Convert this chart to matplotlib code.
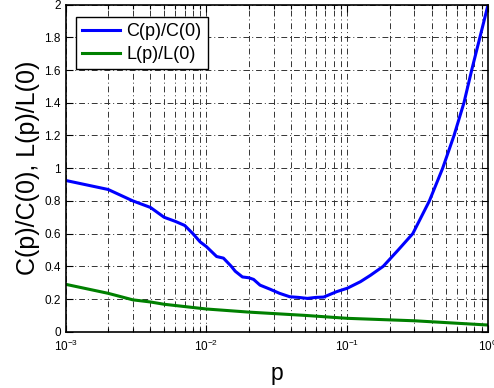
import matplotlib
matplotlib.use("Agg")
import matplotlib.pyplot as plt
from matplotlib.ticker import LogLocator

plt.rcParams['font.family'] = ['Liberation Sans', 'DejaVu Sans']
plt.rcParams['mathtext.fontset'] = 'custom'
plt.rcParams['mathtext.rm'] = 'Liberation Sans'
plt.rcParams['mathtext.it'] = 'Liberation Sans:italic'

# data
p_C = [1e-3, 2e-3, 3e-3, 4e-3, 5e-3, 6e-3, 7e-3, 8e-3, 9e-3, 1e-2, 0.0118, 0.0132,
       0.015, 0.016, 0.018, 0.020, 0.0216, 0.024, 0.0283, 0.033, 0.039, 0.045,
       0.052, 0.060, 0.068, 0.084, 0.10, 0.124, 0.146, 0.180, 0.230, 0.292,
       0.383, 0.476, 0.573, 0.674, 0.765, 0.875, 1.0]
C_ratio = [0.925, 0.87, 0.80, 0.76, 0.70, 0.675, 0.65, 0.60, 0.55, 0.52, 0.46, 0.45,
           0.40, 0.37, 0.335, 0.33, 0.32, 0.285, 0.26, 0.235, 0.214, 0.21,
           0.204, 0.21, 0.212, 0.245, 0.266, 0.306, 0.345, 0.40, 0.50, 0.60,
           0.80, 1.0, 1.2, 1.4, 1.6, 1.8, 2.0]
p_L = [1e-3, 2e-3, 3e-3, 4e-3, 5e-3, 1e-2, 0.02, 0.05, 0.1, 0.3, 1.0]
L_ratio = [0.29, 0.235, 0.195, 0.182, 0.168, 0.139, 0.12, 0.10, 0.082, 0.067, 0.041]
y_ticks = [0, 0.2, 0.4, 0.6, 0.8, 1, 1.2, 1.4, 1.6, 1.8, 2]
y_tick_labels = ['0', '0.2', '0.4', '0.6', '0.8', '1', '1.2', '1.4', '1.6', '1.8', '2']

fig = plt.figure(figsize=(4.94, 3.88), dpi=100)
ax = fig.add_axes([0.133, 0.145, 0.855, 0.843])

ax.plot(p_C, C_ratio, color=(0, 0, 1), lw=2.2, label='C(p)/C(0)')
ax.plot(p_L, L_ratio, color=(0, 0.5, 0), lw=2.2, label='L(p)/L(0)')

ax.set_xscale('log')
ax.set_xlim(1e-3, 1)
ax.set_ylim(0, 2)
ax.set_yticks(y_ticks)
ax.set_yticklabels(y_tick_labels)
ax.xaxis.set_major_locator(LogLocator(base=10))
ax.xaxis.set_minor_locator(LogLocator(base=10, subs=range(2, 10)))

gstyle = dict(color=(0.2, 0.2, 0.2), lw=0.7, linestyle=(0, (6, 3, 1, 3)))
ax.grid(True, which='major', axis='both', **gstyle)
ax.grid(True, which='minor', axis='x', **gstyle)

ax.tick_params(which='both', direction='in', top=True, right=True, labelsize=8.5)
ax.tick_params(which='major', length=5, width=0.8)
ax.tick_params(which='minor', length=3, width=0.8)
ax.tick_params(axis='x', which='major', pad=5)
for s in ax.spines.values():
    s.set_linewidth(1.2)

ax.set_xlabel('p', fontsize=16.5, labelpad=6)
ax.set_ylabel('C(p)/C(0), L(p)/L(0)', fontsize=18, labelpad=3)

leg = ax.legend(loc='upper left', bbox_to_anchor=(10 / 422.3, 1 - 12.5 / 327.2),
                borderaxespad=0, fontsize=13, fancybox=False, framealpha=1,
                edgecolor='k', handlelength=2.1, handletextpad=0.35,
                borderpad=0.35, labelspacing=0.3)
leg.get_frame().set_linewidth(1.0)

fig.savefig('out.png', dpi=100)
